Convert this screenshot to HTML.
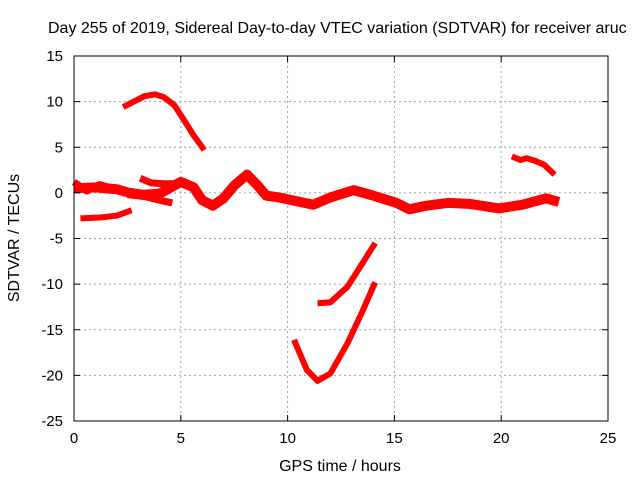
<!DOCTYPE html>
<html><head><meta charset="utf-8"><style>
body{margin:0;background:#fff;}
svg{display:block;font-family:"Liberation Sans",sans-serif;}
</style></head><body>
<svg id="chart" width="640" height="480"></svg>
<script>
const xTicks=[0,5,10,15,20,25];
const yTicks=[15,10,5,0,-5,-10,-15,-20,-25];
const seriesArc=[[2.3,9.4],[2.8,10.0],[3.3,10.6],[3.8,10.8],[4.2,10.5],[4.7,9.6],[5.2,7.8],[5.6,6.3],[6.1,4.7]];
const seriesLow=[[0.3,-2.8],[1.2,-2.7],[2.0,-2.5],[2.7,-1.9]];
const seriesMain=[[0,0.5],[1,0.6],[2,0.4],[2.6,0.0],[3.2,-0.2],[4.0,-0.1],[5.0,1.2],[5.6,0.6],[6.0,-0.8],[6.5,-1.4],[7.0,-0.6],[7.5,0.8],[8.1,2.0],[8.6,0.8],[9.0,-0.3],[9.6,-0.5],[10.4,-0.9],[11.2,-1.3],[12.0,-0.5],[13.1,0.3],[14.0,-0.3],[15.1,-1.1],[15.7,-1.8],[16.5,-1.4],[17.5,-1.1],[18.5,-1.2],[19.9,-1.7],[21.0,-1.3],[22.1,-0.6],[22.7,-1.0]];
const strandUpper=[[3.1,1.6],[3.6,1.1],[4.2,1.0],[4.8,1.0]];
const strandLower=[[2.5,-0.2],[3.3,-0.4],[4.0,-0.8],[4.6,-1.1]];
const strandEarly=[[0,1.2],[0.6,0.2],[1.2,0.9],[1.8,0.5]];
const seriesRight=[[20.5,4.0],[20.9,3.6],[21.2,3.8],[21.6,3.5],[22.0,3.1],[22.5,2.0]];
const seriesVUpper=[[11.4,-12.1],[12.0,-12.0],[12.8,-10.3],[13.4,-8.1],[14.1,-5.5]];
const seriesVLower=[[10.3,-16.1],[10.9,-19.4],[11.4,-20.6],[12.0,-19.8],[12.8,-16.5],[13.5,-13.0],[14.1,-9.8]];

const L=74,R=608,T=56,B=421;
const X=h=>L+(h-0)/25*(R-L);
const Y=v=>T+(15-v)/40*(B-T);
const svg=document.getElementById('chart');
const NS='http://www.w3.org/2000/svg';
function mk(tag,attrs,parent){const e=document.createElementNS(NS,tag);for(const k in attrs)e.setAttribute(k,attrs[k]);(parent||svg).appendChild(e);return e;}

xTicks.forEach(t=>{if(t>0&&t<25){const g=mk('line',{x1:X(t),x2:X(t),y1:T,y2:B,stroke:'#a0a0a0','stroke-dasharray':'2,3'});

}});
yTicks.forEach(t=>{if(t<15&&t>-25){const g=mk('line',{x1:L,x2:R,y1:Y(t),y2:Y(t),stroke:'#a0a0a0','stroke-dasharray':'2,3'});

}});

function series(pts,w,name){const p=mk('polyline',{points:pts.map(d=>X(d[0])+','+Y(d[1])).join(' '),fill:'none',stroke:'#ff0000','stroke-width':w,'stroke-linejoin':'round','stroke-linecap':'butt'});

}
series(seriesArc,6,'series-arc');
series(seriesLow,6,'series-low');
series(seriesMain,10,'series-main');
series(strandUpper,7,'strand-upper');
series(strandLower,7,'strand-lower');
series(strandEarly,7,'strand-early');
series(seriesRight,6,'series-right');
series(seriesVUpper,6,'series-v-upper');
series(seriesVLower,6,'series-v-lower');

const f=mk('rect',{x:L,y:T,width:R-L,height:B-T,fill:'none',stroke:'#000','stroke-width':1});



xTicks.forEach(t=>{mk('line',{x1:X(t),x2:X(t),y1:B,y2:B-6,stroke:'#000'});mk('line',{x1:X(t),x2:X(t),y1:T,y2:T+6,stroke:'#000'});
const tx=mk('text',{x:X(t),y:B+22,'text-anchor':'middle','font-size':15});tx.textContent=t;

});
yTicks.forEach(t=>{mk('line',{x1:L,x2:L+6,y1:Y(t),y2:Y(t),stroke:'#000'});mk('line',{x1:R,x2:R-6,y1:Y(t),y2:Y(t),stroke:'#000'});
const tx=mk('text',{x:L-11,y:Y(t)+5,'text-anchor':'end','font-size':15});tx.textContent=t;

});

const ti=mk('text',{x:48,y:33,'font-size':16});ti.textContent='Day 255 of 2019, Sidereal Day-to-day VTEC variation (SDTVAR) for receiver aruc';


const xl=mk('text',{x:340,y:471,'text-anchor':'middle','font-size':16});xl.textContent='GPS time / hours';


const yl=mk('text',{x:0,y:0,'text-anchor':'middle','font-size':16,transform:'translate(19,238) rotate(-90)'});yl.textContent='SDTVAR / TECUs';


</script>
</body></html>
